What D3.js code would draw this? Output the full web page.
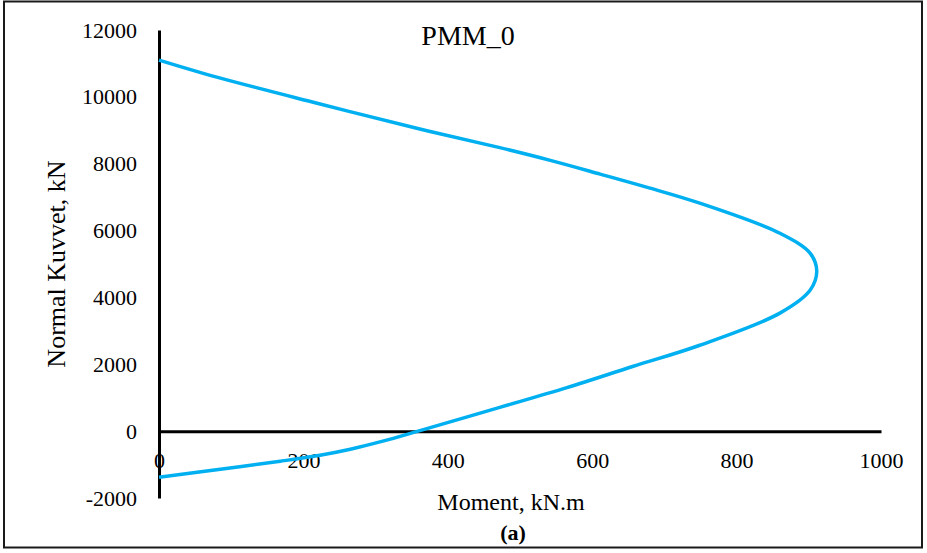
<!DOCTYPE html>
<html>
<head>
<meta charset="utf-8">
<script src="https://cdn.jsdelivr.net/npm/d3@7"></script>
<style>
  html, body { margin: 0; padding: 0; background: #fff; }
  svg { display: block; }
  text { font-family: "Liberation Serif", "Times New Roman", serif; fill: #000; }
</style>
</head>
<body>
<svg id="chart" width="927" height="553"></svg>
<script>
// PMM interaction curve: moment (kN.m) vs. normal force (kN)
const momentValues = [0, 80, 219, 357, 472, 542, 611, 680, 749, 860, 902, 911, 902, 860, 749, 657, 565, 472, 359, 310, 265, 223, 168, 85, 0];
const normalValues = [11100, 10590, 9810, 9060, 8480, 8100, 7690, 7270, 6820, 5920, 5320, 4790, 4220, 3530, 2570, 1940, 1300, 710, 0, -300, -540, -720, -900, -1140, -1380];
const xTicks = [0, 200, 400, 600, 800, 1000];
const yTicks = [-2000, 0, 2000, 4000, 6000, 8000, 10000, 12000];

const chartTitle = "PMM_0";
const xTitle = "Moment, kN.m";
const yTitle = "Normal Kuvvet, kN";
const caption = "(a)";

const svg = d3.select("#chart");

// outer frame
svg.append("rect")
  .attr("x", 4).attr("y", 1.5)
  .attr("width", 918).attr("height", 546)
  .attr("fill", "none").attr("stroke", "#1a1a1a").attr("stroke-width", 2);

const x = d3.scaleLinear().domain([0, 1000]).range([159, 881]);
const y = d3.scaleLinear().domain([-2000, 12000]).range([498, 30]);

// plain hyphen-minus for negative labels
const fmt = d => String(d);

// y axis (vertical line at M = 0)
const yAxis = svg.append("g")
  .attr("transform", `translate(${x(0)},0)`)
  .call(d3.axisLeft(y).tickValues(yTicks).tickSize(0).tickPadding(22).tickFormat(fmt));
yAxis.select(".domain").attr("stroke", "#000").attr("stroke-width", 3);
yAxis.selectAll("text").attr("font-size", 22).attr("font-family", "Liberation Serif");

// x axis (horizontal line at N = 0)
const xAxis = svg.append("g")
  .attr("transform", `translate(0,${y(0)})`)
  .call(d3.axisBottom(x).tickValues(xTicks).tickSize(0).tickPadding(21).tickFormat(fmt));
xAxis.select(".domain").attr("stroke", "#000").attr("stroke-width", 3);
xAxis.selectAll("text").attr("font-size", 22).attr("font-family", "Liberation Serif");

// interaction curve
const points = momentValues.map((m, i) => [m, normalValues[i]]);
const line = d3.line()
  .x(d => x(d[0]))
  .y(d => y(d[1]))
  .curve(d3.curveCatmullRom.alpha(0.5));

svg.append("path")
  .datum(points)
  .attr("d", line)
  .attr("fill", "none")
  .attr("stroke", "#00B0F0")
  .attr("stroke-width", 3.5)
  .attr("stroke-linejoin", "round");

// titles
svg.append("text")
  .attr("x", 468).attr("y", 45)
  .attr("text-anchor", "middle")
  .attr("font-size", 28)
  .text(chartTitle);

svg.append("text")
  .attr("x", 511).attr("y", 510)
  .attr("text-anchor", "middle")
  .attr("font-size", 24)
  .text(xTitle);

svg.append("text")
  .attr("transform", "translate(65,264) rotate(-90)")
  .attr("text-anchor", "middle")
  .attr("font-size", 26)
  .text(yTitle);

svg.append("text")
  .attr("x", 513).attr("y", 540)
  .attr("text-anchor", "middle")
  .attr("font-size", 22)
  .attr("font-weight", "bold")
  .text(caption);
</script>
</body>
</html>
